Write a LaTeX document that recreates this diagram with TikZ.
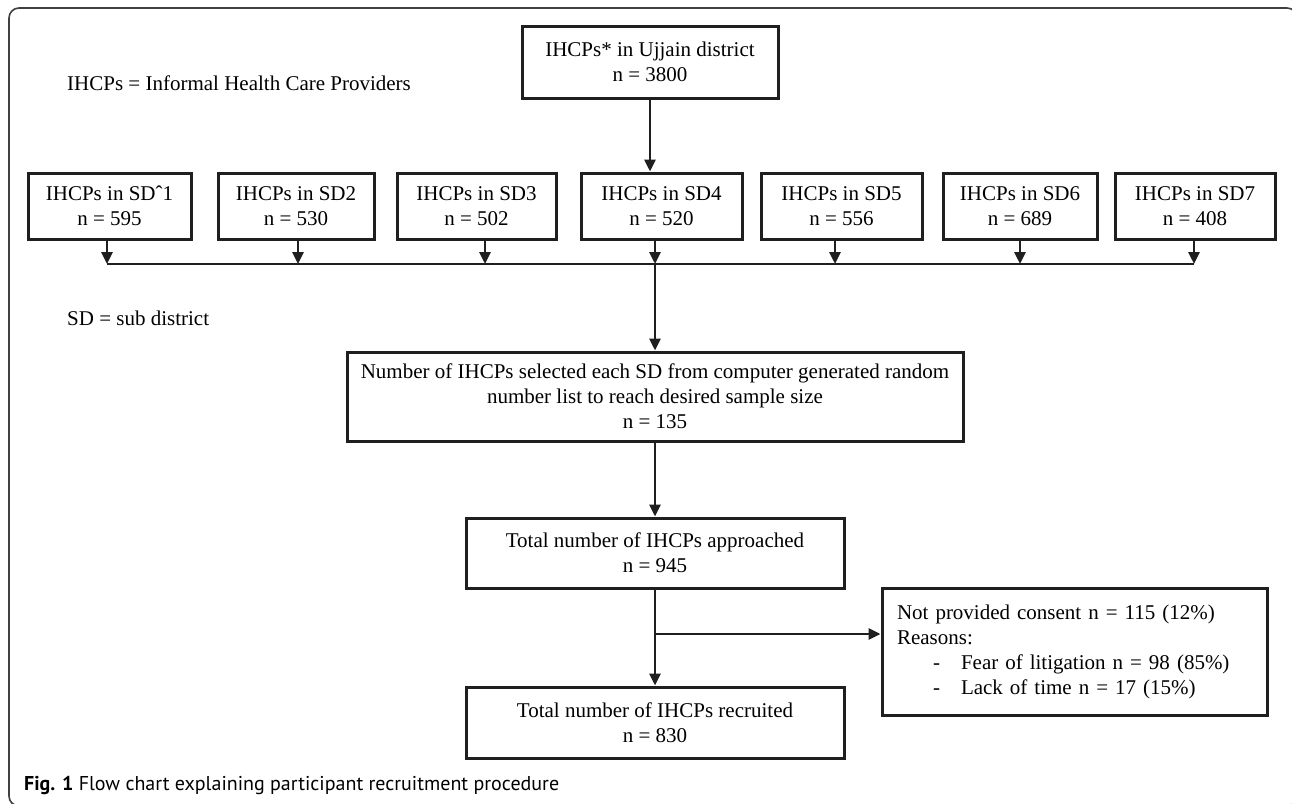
\documentclass[tikz,border=0pt]{standalone}
\usepackage{fontspec}
\setmainfont{Liberation Serif}
\newfontfamily\capfont{PT Sans}
\usepackage{tikz}
\usetikzlibrary{arrows.meta,positioning}
\tikzstyle{box}=[rectangle,draw=black!88,line width=3pt,align=center,inner sep=0pt,font=\fontsize{21}{25}\selectfont]
\tikzstyle{note}=[anchor=west,inner sep=0pt,font=\fontsize{21}{25}\selectfont]
\tikzstyle{conn}=[draw=black!88,line width=2.8pt]
\tikzstyle{flow}=[conn,-{Triangle[length=12pt,width=11pt]}]

\begin{document}
\begin{tikzpicture}[x=1pt,y=-1pt]
        \useasboundingbox (0,0) rectangle (1292,803);
        \clip (0,0) rectangle (1292,803);
        \draw [draw=black!75,line width=1.6pt,rounded corners=10pt] (9,8) rectangle (1297,806);

        \node at (650,62) [box,minimum width=256pt,minimum height=72pt] (top) {IHCPs* in Ujjain district\\n = 3800};
        \node at (67,83) [note] (abbr1) {IHCPs = Informal Health Care Providers};

        \node at (109.5,206) [box,minimum width=163pt,minimum height=66pt] (sd1) {IHCPs in SDˆ1\\n = 595};
        \node at (296,206)   [box,minimum width=156pt,minimum height=66pt] (sd2) {IHCPs in SD2\\n = 530};
        \node at (476.5,206) [box,minimum width=159pt,minimum height=66pt] (sd3) {IHCPs in SD3\\n = 502};
        \node at (661.5,206) [box,minimum width=161pt,minimum height=66pt] (sd4) {IHCPs in SD4\\n = 520};
        \node at (841.5,206) [box,minimum width=161pt,minimum height=66pt] (sd5) {IHCPs in SD5\\n = 556};
        \node at (1020,206)  [box,minimum width=154pt,minimum height=66pt] (sd6) {IHCPs in SD6\\n = 689};
        \node at (1195,206)  [box,minimum width=160pt,minimum height=66pt] (sd7) {IHCPs in SD7\\n = 408};

        \coordinate (j1) at (107,264);
        \coordinate (j2) at (298,264);
        \coordinate (j3) at (485,264);
        \coordinate (j4) at (655,264);
        \coordinate (j5) at (835,264);
        \coordinate (j6) at (1020,264);
        \coordinate (j7) at (1194,264);

        \node at (67,318) [note] (abbr2) {SD = sub district};

        \node at (655,396.5) [box,minimum width=616pt,minimum height=89pt] (mid) {Number of IHCPs selected each SD from computer generated random\\number list to reach desired sample size\\n = 135};
        \node at (655,553) [box,minimum width=378pt,minimum height=70pt] (appr) {Total number of IHCPs approached\\n = 945};
        \node at (655,722.5) [box,minimum width=378pt,minimum height=71pt] (recr) {Total number of IHCPs recruited\\n = 830};
        \node at (1074.5,651.5) [box,align=left,text width=355pt,inner xsep=15pt,minimum height=127pt] (side) {Not provided consent n = 115 (12\%)\\Reasons:\\\hspace*{36pt}\makebox[28pt][l]{-}Fear of litigation n = 98 (85\%)\\\hspace*{36pt}\makebox[28pt][l]{-}Lack of time n = 17 (15\%)};
        \coordinate (br) at (655,634);

        \node at (24,785) [anchor=west,inner sep=0pt,font=\capfont\fontsize{20}{22}\selectfont] (cap) {\textbf{Fig. 1} Flow chart explaining participant recruitment procedure};

        \draw [flow] (top.south) -- (top.south |- sd4.north);
        \draw [flow] (sd1.south -| j1) -- (j1);
        \draw [flow] (sd2.south -| j2) -- (j2);
        \draw [flow] (sd3.south -| j3) -- (j3);
        \draw [flow] (sd4.south -| j4) -- (j4);
        \draw [flow] (sd5.south -| j5) -- (j5);
        \draw [flow] (sd6.south -| j6) -- (j6);
        \draw [flow] (sd7.south -| j7) -- (j7);
        \draw [conn] (j1) -- (j7);
        \draw [flow] (j4) -- (mid.north);
        \draw [flow] (mid) -- (appr);
        \draw [flow] (appr) -- (recr);
        \draw [flow] (br) -- (side.west |- br);
\end{tikzpicture}
\end{document}
